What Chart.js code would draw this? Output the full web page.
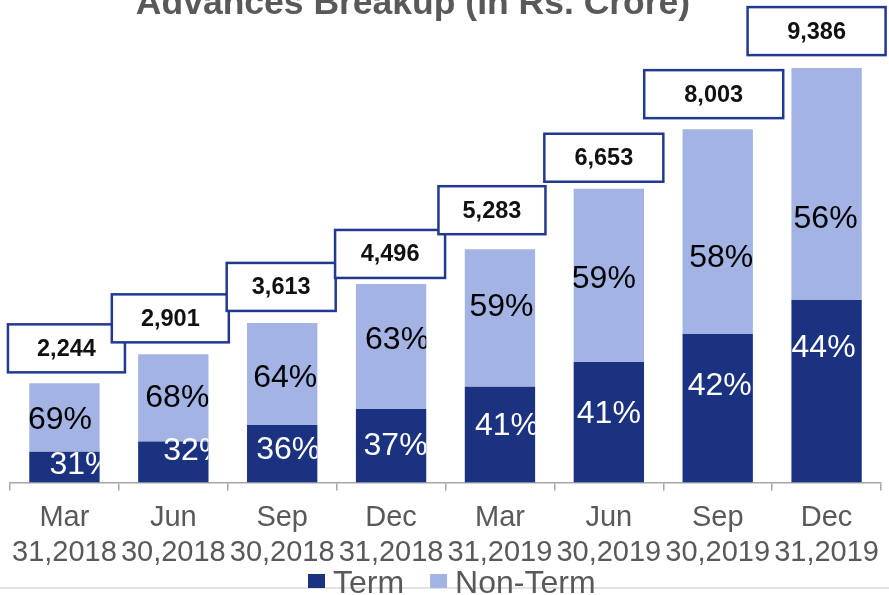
<!DOCTYPE html>
<html lang="en">
<head>
    <meta charset="utf-8">
    <script src="https://cdn.jsdelivr.net/npm/chart.js"></script>
    <style>
        body {
            margin: 0;
            padding: 0;
            background-color: #ffffff;
            overflow: hidden;
        }
        .chart-wrap {
            position: relative;
            width: 889px;
            height: 595px;
        }
    </style>
</head>
<body>
    <div class="chart-wrap">
        <canvas id="advancesChart" width="889" height="595"></canvas>
    </div>
    <script>
        // Quarter-end dates (two-line tick labels)
        const months = ['Mar', 'Jun', 'Sep', 'Dec', 'Mar', 'Jun', 'Sep', 'Dec'];
        const dates = ['31,2018', '30,2018', '30,2018', '31,2018', '31,2019', '30,2019', '30,2019', '31,2019'];
        // Total advances, Rs. Crore
        const totals = [2244, 2901, 3613, 4496, 5283, 6653, 8003, 9386];
        // Share of each loan type in the total, %
        const termShare = [31, 32, 36, 37, 41, 41, 42, 44];
        const nonTermShare = [69, 68, 64, 63, 59, 59, 58, 56];

        const FONT = '"Liberation Sans", Arial, sans-serif';
        const GREY = '#595959';

        // segment heights come straight from total x share
        const termValues = totals.map((t, i) => t * termShare[i] / 100);
        const nonTermValues = totals.map((t, i) => t * nonTermShare[i] / 100);

        // Draws the heading, the % labels inside bars, the boxed totals and the legend
        const annotate = {
            id: 'annotate',
            beforeDraw(chart) {
                const ctx = chart.ctx;
                ctx.save();
                ctx.strokeStyle = '#d9d9d9';
                ctx.lineWidth = 1.5;
                ctx.beginPath();
                ctx.moveTo(0, 588);
                ctx.lineTo(chart.width, 588);
                ctx.stroke();
                ctx.restore();
            },
            afterDatasetsDraw(chart, args, opts) {
                const ctx = chart.ctx;
                const shares = [termShare, nonTermShare];

                [0, 1].forEach(ds => {
                    chart.getDatasetMeta(ds).data.forEach((bar, i) => {
                        const p = bar.getProps(['x', 'y', 'base', 'width'], true);
                        const nudge = opts.nudges[ds][i];
                        ctx.save();
                        ctx.beginPath();
                        ctx.rect(p.x - p.width / 2, 0, p.width, chart.height);
                        ctx.clip();
                        ctx.font = '32px ' + FONT;
                        ctx.fillStyle = ds === 0 ? '#ffffff' : '#000000';
                        ctx.textAlign = 'center';
                        ctx.textBaseline = 'middle';
                        ctx.fillText(shares[ds][i] + '%', p.x + nudge[0], (p.y + p.base) / 2 + nudge[1]);
                        ctx.restore();
                    });
                });

                // boxed totals above each stack
                chart.getDatasetMeta(1).data.forEach((bar, i) => {
                    const b = opts.boxes[i];
                    const cx = bar.x + b.dx;
                    const bottom = bar.y - b.gap;
                    const h = 48;
                    ctx.save();
                    ctx.fillStyle = '#ffffff';
                    ctx.fillRect(cx - b.w / 2, bottom - h, b.w, h);
                    ctx.strokeStyle = '#22398f';
                    ctx.lineWidth = 2.5;
                    ctx.strokeRect(cx - b.w / 2, bottom - h, b.w, h);
                    ctx.font = 'bold 23.5px ' + FONT;
                    ctx.fillStyle = '#111111';
                    ctx.textAlign = 'center';
                    ctx.textBaseline = 'middle';
                    ctx.fillText(totals[i].toLocaleString('en-US'), cx, bottom - h / 2 + 1);
                    ctx.restore();
                });
            },
            afterDraw(chart) {
                const ctx = chart.ctx;
                ctx.save();
                ctx.font = 'bold 35.5px ' + FONT;
                ctx.fillStyle = GREY;
                ctx.textAlign = 'center';
                ctx.textBaseline = 'alphabetic';
                ctx.fillText('Advances Breakup (In Rs. Crore)', 413, 14);

                // legend row under the axis labels
                ctx.font = '32px ' + FONT;
                ctx.textAlign = 'left';
                let x = 308;
                chart.data.datasets.forEach(ds => {
                    ctx.fillStyle = ds.backgroundColor;
                    ctx.fillRect(x, 574, 17, 14);
                    ctx.fillStyle = GREY;
                    ctx.fillText(ds.label, x + 25, 593);
                    x += 25 + ctx.measureText(ds.label).width + 26;
                });
                ctx.restore();
            }
        };

        new Chart(document.getElementById('advancesChart'), {
            type: 'bar',
            data: {
                labels: months.map((m, i) => [m, dates[i]]),
                datasets: [{
                    label: 'Term',
                    data: termValues,
                    backgroundColor: '#1b3281',
                    categoryPercentage: 1,
                    barPercentage: 0.646
                }, {
                    label: 'Non-Term',
                    data: nonTermValues,
                    backgroundColor: '#a2b3e4',
                    categoryPercentage: 1,
                    barPercentage: 0.646
                }]
            },
            options: {
                responsive: false,
                animation: false,
                layout: {
                    padding: { top: 41, left: 10, right: 0, bottom: 15 }
                },
                scales: {
                    x: {
                        stacked: true,
                        grid: {
                            display: true,
                            drawOnChartArea: false,
                            drawTicks: true,
                            tickLength: 8,
                            color: '#a6a6a6',
                            lineWidth: 1.5
                        },
                        border: { display: true, color: '#a6a6a6', width: 1.5 },
                        ticks: {
                            color: GREY,
                            font: { family: FONT, size: 29, lineHeight: 1.2 },
                            padding: 10,
                            maxRotation: 0,
                            autoSkip: false
                        }
                    },
                    y: {
                        stacked: true,
                        display: false,
                        min: 0,
                        max: 10000
                    }
                },
                plugins: {
                    legend: { display: false },
                    tooltip: { enabled: false },
                    annotate: {
                        // [dx, dy] per bar: Term, then Non-Term
                        nudges: [
                            [[17, -2], [22, -11], [6, -4], [4.5, 0], [7, -8], [0, -8], [2, -22], [-3, -43]],
                            [[-4.5, 3], [4, 0], [3, 4], [6, -6], [1.5, -11], [-5, 4], [3.5, 27], [-1, 35]]
                        ],
                        boxes: [
                            { dx: 2, w: 117, gap: 11 },
                            { dx: -3, w: 117, gap: 12 },
                            { dx: -1, w: 109, gap: 12 },
                            { dx: -1, w: 110, gap: 6 },
                            { dx: -8, w: 107, gap: 15 },
                            { dx: -5, w: 119, gap: 7 },
                            { dx: -4, w: 139, gap: 11 },
                            { dx: -10, w: 138, gap: 13 }
                        ]
                    }
                }
            },
            plugins: [annotate]
        });
    </script>
</body>
</html>
